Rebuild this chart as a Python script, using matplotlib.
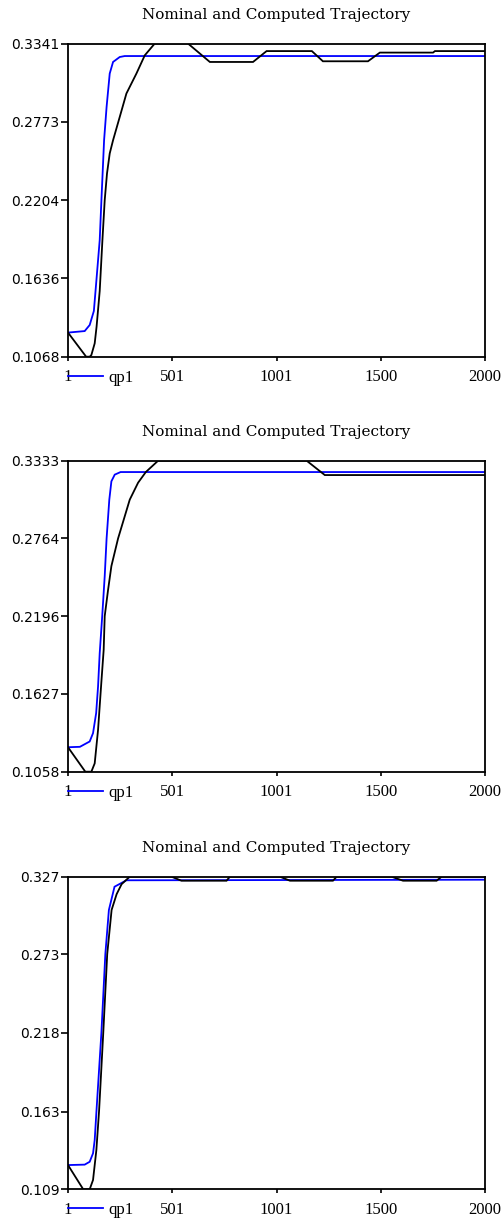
import matplotlib
matplotlib.use("Agg")
import matplotlib.pyplot as plt
from matplotlib.lines import Line2D

title_text = "Nominal and Computed Trajectory"
legend_label = "qp1"
x_ticks = [1, 501, 1001, 1500, 2000]

# Panel 1
p1_yticks = [0.1068, 0.1636, 0.2204, 0.2773, 0.3341]
p1_yticklabels = ["0.1068", "0.1636", "0.2204", "0.2773", "0.3341"]
p1_blue_t = [1, 81, 105, 125, 134, 153, 161, 174, 186, 201, 217, 249, 273, 2000]
p1_blue_y = [0.1243, 0.1254, 0.1298, 0.1400, 0.1564, 0.1914, 0.2197, 0.2639, 0.2881, 0.3123, 0.3207, 0.3243, 0.3250, 0.3250]
p1_black_t = [1, 88, 105, 113, 129, 138, 153, 166, 177, 188, 201, 217, 249, 281, 329, 369, 417, 576, 681, 888, 953, 1170, 1223, 1439, 1496, 1751, 1760, 2000]
p1_black_y = [0.1243, 0.1068, 0.1068, 0.1080, 0.1165, 0.1286, 0.1545, 0.1914, 0.2204, 0.2398, 0.2543, 0.2639, 0.2808, 0.2978, 0.3123, 0.3255, 0.3341, 0.3341, 0.3207, 0.3207, 0.3286, 0.3286, 0.3212, 0.3212, 0.3275, 0.3275, 0.3286, 0.3286]

# Panel 2
p2_yticks = [0.1058, 0.1627, 0.2196, 0.2764, 0.3333]
p2_yticklabels = ["0.1058", "0.1627", "0.2196", "0.2764", "0.3333"]
p2_blue_t = [1, 58, 105, 121, 136, 145, 153, 165, 177, 186, 199, 209, 225, 253, 2000]
p2_blue_y = [0.1237, 0.1240, 0.1279, 0.1340, 0.1487, 0.1680, 0.1925, 0.2196, 0.2489, 0.2764, 0.3048, 0.3182, 0.3231, 0.3250, 0.3250]
p2_black_t = [1, 84, 113, 129, 145, 161, 172, 177, 193, 209, 241, 297, 337, 374, 433, 1145, 1232, 2000]
p2_black_y = [0.1237, 0.1058, 0.1058, 0.1119, 0.1363, 0.1715, 0.1949, 0.2196, 0.2387, 0.2562, 0.2764, 0.3048, 0.3172, 0.3250, 0.3333, 0.3333, 0.3228, 0.3228]

# Panel 3
p3_yticks = [0.109, 0.163, 0.218, 0.273, 0.327]
p3_yticklabels = ["0.109", "0.163", "0.218", "0.273", "0.327"]
p3_blue_t = [1, 81, 105, 121, 129, 137, 161, 180, 197, 224, 281, 2000]
p3_blue_y = [0.1259, 0.1262, 0.1282, 0.1341, 0.1434, 0.1625, 0.2180, 0.2730, 0.3038, 0.3200, 0.3245, 0.3249]
p3_black_t = [1, 74, 105, 121, 137, 150, 170, 189, 210, 234, 258, 297, 497, 545, 761, 777, 1017, 1065, 1271, 1289, 1552, 1607, 1768, 1792, 2000]
p3_black_y = [0.1259, 0.109, 0.109, 0.1155, 0.1364, 0.1638, 0.218, 0.273, 0.3038, 0.3148, 0.3218, 0.327, 0.327, 0.3242, 0.3242, 0.327, 0.327, 0.3242, 0.3242, 0.327, 0.327, 0.3242, 0.3242, 0.327, 0.327]

panels = [
    (p1_yticks, p1_yticklabels, p1_blue_t, p1_blue_y, p1_black_t, p1_black_y),
    (p2_yticks, p2_yticklabels, p2_blue_t, p2_blue_y, p2_black_t, p2_black_y),
    (p3_yticks, p3_yticklabels, p3_blue_t, p3_blue_y, p3_black_t, p3_black_y),
]

W, H = 502, 1220
fig = plt.figure(figsize=(W / 100, H / 100), dpi=100)
fig.patch.set_facecolor("white")

# pixel geometry of each axes (top, bottom)
left_px, right_px = 68, 485
tb_px = [(43.5, 356.7), (460.7, 771.7), (876.7, 1189.3)]

serif = ["Liberation Serif", "DejaVu Serif"]
sans = ["DejaVu Sans"]

for (yt, ytl, bt, by, kt, ky), (top, bot) in zip(panels, tb_px):
    ax = fig.add_axes([left_px / W, 1 - bot / H, (right_px - left_px) / W, (bot - top) / H])
    ax.plot(bt, by, color="#0000ff", lw=1.3, solid_joinstyle="miter")
    ax.plot(kt, ky, color="black", lw=1.3, solid_joinstyle="miter")
    ax.set_xlim(1, 2000)
    ax.set_ylim(yt[0], yt[-1])
    ax.set_yticks(yt)
    ax.set_yticklabels(ytl, fontfamily=sans, fontsize=10)
    ax.set_xticks(x_ticks)
    ax.set_xticklabels([str(v) for v in x_ticks], fontfamily=serif, fontsize=12)
    ax.tick_params(axis="y", direction="out", length=5, width=1.2, pad=1)
    ax.tick_params(axis="x", direction="out", length=3, width=1.2, pad=6)
    for s in ax.spines.values():
        s.set_linewidth(1.3)
        s.set_color("black")
    h = bot - top
    ax.text(0.5, 1 + 28.5 / h, title_text, transform=ax.transAxes,
            ha="center", va="center", fontsize=11, fontfamily=["DejaVu Serif"])
    handle = Line2D([], [], color="#0000ff", lw=1.3)
    ax.legend([handle], [legend_label], loc="center left",
              bbox_to_anchor=(0, -21 / h), frameon=False, borderpad=0,
              borderaxespad=0, handlelength=2.1, handletextpad=0.35,
              prop={"family": serif, "size": 12})

fig.savefig("out.png", dpi=100)
